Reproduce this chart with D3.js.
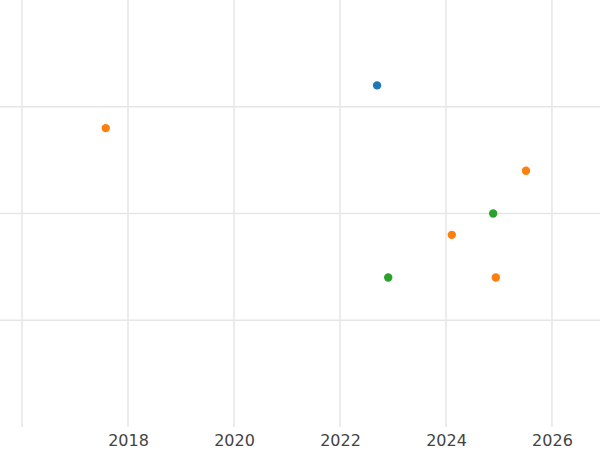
<!DOCTYPE html>
<html><head><meta charset="utf-8">
<script src="https://cdn.jsdelivr.net/npm/d3@7"></script>
<style>body{margin:0;background:#fff}</style></head>
<body><svg id="c" width="600" height="450"></svg>
<script>
const years = [2022.70, 2017.58, 2025.51, 2024.89, 2024.11, 2022.91, 2024.94];
const values = [3.2, 2.8, 2.4, 2.0, 1.8, 1.4, 1.4];
const groups = ["blue", "orange", "orange", "green", "orange", "green", "orange"];
const xTicks = [2016, 2018, 2020, 2022, 2024, 2026];
const xTickLabels = ["", "2018", "2020", "2022", "2024", "2026"];
const yTicks = [1, 2, 3];
const colors = {blue:"#1f77b4", orange:"#ff7f0e", green:"#2ca02c"};

const svg = d3.select("#c");
const x = d3.scaleLinear().domain([2015.585, 2026.906]).range([0, 600]);
const y = d3.scaleLinear().domain([0, 4]).range([427, 0]);

svg.append("g").selectAll("line").data(xTicks).join("line")
  .attr("x1", d => x(d)).attr("x2", d => x(d)).attr("y1", 0).attr("y2", 427)
  .attr("stroke", "#e6e6e6").attr("stroke-width", 1.5);
svg.append("g").selectAll("line").data(yTicks).join("line")
  .attr("x1", 0).attr("x2", 600).attr("y1", d => y(d)).attr("y2", d => y(d))
  .attr("stroke", "#e6e6e6").attr("stroke-width", 1.5);

const ax = svg.append("g").attr("transform", "translate(0,427)")
  .call(d3.axisBottom(x).tickValues(xTicks).tickFormat((d,i) => xTickLabels[i]).tickSize(0).tickPadding(8));
ax.select(".domain").remove();
ax.selectAll("text").attr("font-family", "DejaVu Sans").attr("font-size", 16).attr("fill", "#444");

svg.append("g").selectAll("circle").data(years).join("circle")
  .attr("cx", d => x(d)).attr("cy", (d,i) => y(values[i])).attr("r", 4.2)
  .attr("fill", (d,i) => colors[groups[i]]);
</script></body></html>
